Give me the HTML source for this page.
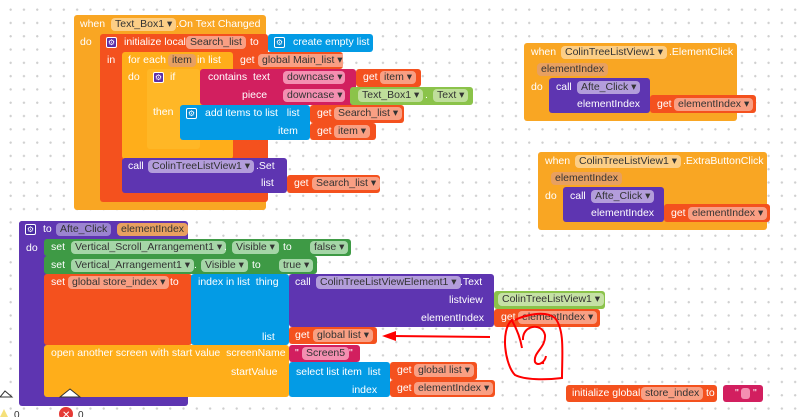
<!DOCTYPE html>
<html><head><meta charset="utf-8"><style>
html,body{margin:0;padding:0}
body{width:800px;height:417px;position:relative;overflow:hidden;background:#fff;
background-image:radial-gradient(circle,#cfcfcf 1px,transparent 1.3px);background-size:13.3px 13.3px;background-position:4px 3px;
font-family:"Liberation Sans",sans-serif;font-size:10.5px}
div,span{position:absolute;box-sizing:border-box}
.r{border-radius:3px}
.t{color:#fff;line-height:13px;white-space:nowrap}
.f{height:13px;border-radius:4px;background:rgba(255,255,255,.45);color:#333;line-height:13px;padding:0 4px;white-space:nowrap}
.g{width:11px;height:11px;border-radius:2px;background:#5c2fa8;border:1px solid #fff;color:#fff;font-size:8px;line-height:9px;text-align:center}
.O{background:#F9A623}.Y{background:#FFAE1A}.R{background:#F4511E}.B{background:#039BE5}.P{background:#5E35B1}
.M{background:#D21F5F}.G{background:#3E9A45}.L{background:#8BC34A}
</style></head><body>

<!-- Block 1 -->
<div class="O r" style="left:74px;top:15px;width:192px;height:195px"></div>
<span class="t" style="left:80px;top:18px">when</span>
<span class="f" style="left:111px;top:18px">Text_Box1 ▾</span>
<span class="t" style="left:176px;top:18px">.On Text Changed</span>
<span class="t" style="left:80px;top:36px">do</span>
<div class="R r" style="left:100px;top:34px;width:168px;height:168px"></div>
<span class="g" style="left:106px;top:37px">⚙</span>
<span class="t" style="left:124px;top:36px">initialize local</span>
<span class="f" style="left:186px;top:36px">Search_list</span>
<span class="t" style="left:250px;top:36px">to</span>
<div class="B r" style="left:268px;top:34px;width:105px;height:18px"></div>
<span class="g" style="left:274px;top:37px;background:#0288d1">⚙</span>
<span class="t" style="left:293px;top:36px">create empty list</span>
<span class="t" style="left:107px;top:54px">in</span>
<div class="Y r" style="left:122px;top:52px;width:111px;height:107px"></div>
<span class="t" style="left:128px;top:54px">for each</span>
<span class="f" style="left:168px;top:54px;background:#e8a060">item</span>
<span class="t" style="left:197px;top:54px">in list</span>
<div class="R r" style="left:233px;top:52px;width:110px;height:17px"></div>
<span class="t" style="left:240px;top:54px">get</span>
<span class="f" style="left:258px;top:54px">global Main_list ▾</span>
<span class="t" style="left:128px;top:71px">do</span>
<div class="Y r" style="left:147px;top:69px;width:53px;height:80px;background:#FFB726"></div>
<span class="g" style="left:153px;top:72px">⚙</span>
<span class="t" style="left:170px;top:71px">if</span>
<div class="M r" style="left:200px;top:69px;width:156px;height:36px"></div>
<span class="t" style="left:208px;top:71px">contains&nbsp; text</span>
<span class="t" style="left:242px;top:89px">piece</span>
<div class="f" style="left:283px;top:71px;width:62px;background:#F48FB1">downcase ▾</div>
<div class="f" style="left:283px;top:89px;width:62px;background:#F48FB1">downcase ▾</div>
<div class="R r" style="left:356px;top:69px;width:65px;height:18px"></div>
<span class="t" style="left:363px;top:71px">get</span>
<span class="f" style="left:380px;top:71px">item ▾</span>
<div class="L r" style="left:350px;top:87px;width:123px;height:18px"></div>
<span class="f" style="left:358px;top:89px">Text_Box1 ▾</span>
<span class="t" style="left:425px;top:89px">.</span>
<span class="f" style="left:433px;top:89px">Text ▾</span>
<span class="t" style="left:153px;top:106px">then</span>
<div class="B r" style="left:180px;top:105px;width:130px;height:35px"></div>
<span class="g" style="left:186px;top:108px;background:#0288d1">⚙</span>
<span class="t" style="left:205px;top:107px">add items to list&nbsp;&nbsp; list</span>
<span class="t" style="left:278px;top:125px">item</span>
<div class="R r" style="left:310px;top:105px;width:94px;height:18px"></div>
<span class="t" style="left:317px;top:107px">get</span>
<span class="f" style="left:334px;top:107px">Search_list ▾</span>
<div class="R r" style="left:310px;top:123px;width:66px;height:17px"></div>
<span class="t" style="left:317px;top:125px">get</span>
<span class="f" style="left:334px;top:125px">item ▾</span>
<div class="P r" style="left:122px;top:158px;width:165px;height:35px"></div>
<span class="t" style="left:128px;top:160px">call</span>
<span class="f" style="left:148px;top:160px;background:#B39DDB">ColinTreeListView1 ▾</span>
<span class="t" style="left:256px;top:160px">.Set</span>
<span class="t" style="left:261px;top:177px">list</span>
<div class="R r" style="left:287px;top:175px;width:93px;height:18px"></div>
<span class="t" style="left:294px;top:177px">get</span>
<span class="f" style="left:312px;top:177px">Search_list ▾</span>

<!-- Block 3 -->
<div class="O r" style="left:524px;top:43px;width:213px;height:78px"></div>
<span class="t" style="left:531px;top:46px">when</span>
<span class="f" style="left:561px;top:46px">ColinTreeListView1 ▾</span>
<span class="t" style="left:669px;top:46px">.ElementClick</span>
<span class="f" style="left:537px;top:63px;background:#e8a060">elementIndex</span>
<span class="t" style="left:531px;top:81px">do</span>
<div class="P r" style="left:549px;top:78px;width:101px;height:35px"></div>
<span class="t" style="left:556px;top:81px">call</span>
<span class="f" style="left:577px;top:81px;background:#B39DDB">Afte_Click ▾</span>
<span class="t" style="left:577px;top:98px">elementIndex</span>
<div class="R r" style="left:650px;top:95px;width:106px;height:18px"></div>
<span class="t" style="left:657px;top:98px">get</span>
<span class="f" style="left:674px;top:98px">elementIndex ▾</span>

<!-- Block 4 -->
<div class="O r" style="left:538px;top:152px;width:229px;height:78px"></div>
<span class="t" style="left:545px;top:155px">when</span>
<span class="f" style="left:575px;top:155px">ColinTreeListView1 ▾</span>
<span class="t" style="left:683px;top:155px">.ExtraButtonClick</span>
<span class="f" style="left:551px;top:172px;background:#e8a060">elementIndex</span>
<span class="t" style="left:545px;top:190px">do</span>
<div class="P r" style="left:563px;top:187px;width:101px;height:35px"></div>
<span class="t" style="left:570px;top:190px">call</span>
<span class="f" style="left:591px;top:190px;background:#B39DDB">Afte_Click ▾</span>
<span class="t" style="left:591px;top:207px">elementIndex</span>
<div class="R r" style="left:664px;top:204px;width:106px;height:18px"></div>
<span class="t" style="left:671px;top:207px">get</span>
<span class="f" style="left:688px;top:207px">elementIndex ▾</span>

<!-- Block 2 -->
<div class="P r" style="left:19px;top:221px;width:169px;height:185px"></div>
<div class="P r" style="left:19px;top:221px;width:141px;height:18px"></div>
<span class="g" style="left:25px;top:224px;background:#4527a0">⚙</span>
<span class="t" style="left:43px;top:223px">to</span>
<span class="f" style="left:56px;top:223px;background:#9b84d0">Afte_Click</span>
<span class="f" style="left:117px;top:223px;background:#e8a060">elementIndex</span>
<span class="t" style="left:26px;top:242px">do</span>
<div class="G r" style="left:44px;top:239px;width:307px;height:17px"></div>
<span class="t" style="left:51px;top:241px">set</span>
<span class="f" style="left:71px;top:241px;background:#A5D6A7">Vertical_Scroll_Arrangement1 ▾</span>
<span class="t" style="left:224px;top:241px">.</span>
<span class="f" style="left:232px;top:241px;background:#A5D6A7">Visible ▾</span>
<span class="t" style="left:283px;top:241px">to</span>
<span class="f" style="left:310px;top:241px;background:#A5D6A7">false ▾</span>
<div class="G r" style="left:44px;top:256px;width:273px;height:18px"></div>
<span class="t" style="left:51px;top:259px">set</span>
<span class="f" style="left:71px;top:259px;background:#A5D6A7">Vertical_Arrangement1 ▾</span>
<span class="t" style="left:194px;top:259px">.</span>
<span class="f" style="left:201px;top:259px;background:#A5D6A7">Visible ▾</span>
<span class="t" style="left:252px;top:259px">to</span>
<span class="f" style="left:279px;top:259px;background:#A5D6A7">true ▾</span>
<div class="R r" style="left:44px;top:274px;width:148px;height:71px"></div>
<span class="t" style="left:51px;top:276px">set</span>
<span class="f" style="left:68px;top:276px">global store_index ▾</span>
<span class="t" style="left:170px;top:276px">to</span>
<div class="B r" style="left:191px;top:274px;width:98px;height:71px"></div>
<span class="t" style="left:198px;top:276px">index in list&nbsp; thing</span>
<span class="t" style="left:262px;top:331px">list</span>
<div class="P r" style="left:289px;top:274px;width:205px;height:53px"></div>
<span class="t" style="left:295px;top:276px">call</span>
<span class="f" style="left:316px;top:276px;background:#B39DDB">ColinTreeListViewElement1 ▾</span>
<span class="t" style="left:460px;top:276px">.Text</span>
<span class="t" style="left:449px;top:294px">listview</span>
<span class="t" style="left:421px;top:312px">elementIndex</span>
<div class="L r" style="left:494px;top:291px;width:111px;height:18px"></div>
<span class="f" style="left:498px;top:293px;background:#C5E1A5">ColinTreeListView1 ▾</span>
<div class="R r" style="left:494px;top:309px;width:106px;height:18px"></div>
<span class="t" style="left:501px;top:311px">get</span>
<span class="f" style="left:518px;top:311px">elementIndex ▾</span>
<div class="R r" style="left:289px;top:327px;width:88px;height:17px"></div>
<span class="t" style="left:295px;top:329px">get</span>
<span class="f" style="left:313px;top:329px">global list ▾</span>
<div class="Y r" style="left:44px;top:345px;width:245px;height:52px"></div>
<span class="t" style="left:51px;top:347px">open another screen with start value&nbsp; screenName</span>
<span class="t" style="left:231px;top:366px">startValue</span>
<div class="M r" style="left:289px;top:345px;width:71px;height:17px"></div>
<span class="t" style="left:295px;top:347px">"</span>
<span class="f" style="left:302px;top:347px;background:#F48FB1">Screen5</span>
<span class="t" style="left:349px;top:347px">"</span>
<div class="B r" style="left:289px;top:362px;width:101px;height:35px"></div>
<span class="t" style="left:296px;top:366px">select list item&nbsp; list</span>
<span class="t" style="left:352px;top:384px">index</span>
<div class="R r" style="left:390px;top:362px;width:87px;height:18px"></div>
<span class="t" style="left:397px;top:364px">get</span>
<span class="f" style="left:414px;top:364px">global list ▾</span>
<div class="R r" style="left:390px;top:380px;width:105px;height:17px"></div>
<span class="t" style="left:397px;top:382px">get</span>
<span class="f" style="left:414px;top:382px">elementIndex ▾</span>

<!-- init global -->
<div class="R r" style="left:566px;top:385px;width:151px;height:17px"></div>
<span class="t" style="left:572px;top:387px">initialize global</span>
<span class="f" style="left:641px;top:387px">store_index</span>
<span class="t" style="left:706px;top:387px">to</span>
<div class="M r" style="left:723px;top:385px;width:40px;height:17px"></div>
<span class="t" style="left:735px;top:387px">"</span>
<div style="left:741px;top:388px;width:9px;height:11px;border-radius:3px;background:#F48FB1"></div>
<span class="t" style="left:753px;top:387px">"</span>

<!-- annotations & icons -->
<svg style="position:absolute;left:0;top:0" width="800" height="417">
<line x1="490" y1="337" x2="392" y2="336" stroke="#f00" stroke-width="2"/>
<polygon points="382,336 396,331 396,341" fill="#f00"/>
<path d="M522,348 C519,330 510,318 512,320 C500,330 505,365 515,375 C525,380 545,380 562,378 C562,355 565,330 555,318 C545,310 525,315 515,320 M523,340 C522,325 542,322 545,335 C546,348 533,352 535,362 C538,367 545,362 546,356" stroke="#f00" stroke-width="2" fill="none"/>
<circle cx="543" cy="363" r="1.2" fill="#f00"/>
<polygon points="60,397 70,389 80,397" fill="#fff" stroke="#333"/>
<polygon points="0,397 5,391 12,397" fill="#fff" stroke="#333"/>
<polygon points="0,417 4,409 8,417" fill="#f5e07a"/>
<circle cx="66" cy="414" r="7" fill="#e53935"/>
<text x="62" y="418" fill="#fff" font-size="10" font-family="Liberation Sans">✕</text>
<text x="14" y="418" fill="#333" font-size="10" font-family="Liberation Sans">0</text>
<text x="78" y="418" fill="#333" font-size="10" font-family="Liberation Sans">0</text>
</svg>
</body></html>
